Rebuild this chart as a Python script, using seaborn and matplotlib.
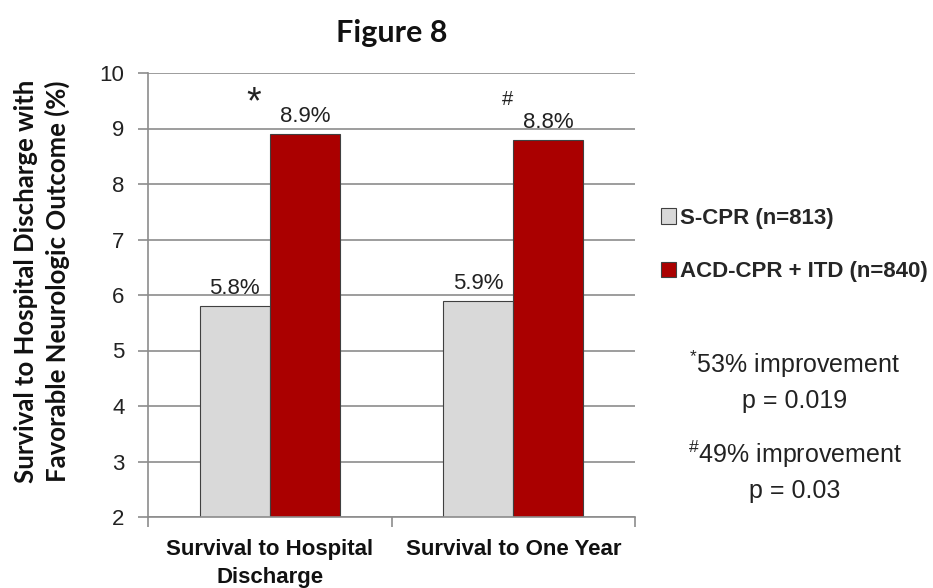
import matplotlib
matplotlib.use("Agg")
import pandas as pd
import seaborn as sns
from matplotlib import pyplot as plt
from matplotlib.patches import Patch

categories = ["Survival to Hospital\nDischarge", "Survival to One Year"]
groups = ["S-CPR (n=813)", "ACD-CPR + ITD (n=840)"]
s_cpr = [5.8, 5.9]
acd_itd = [8.9, 8.8]
yticks = [2, 3, 4, 5, 6, 7, 8, 9, 10]
notes = [
    ["$^{\\mathrm{*}}$53% improvement", "p = 0.019"],
    ["$^{\\#}$49% improvement", "p = 0.03"],
]

df = pd.DataFrame({
    "outcome": categories * 2,
    "group": [groups[0]] * 2 + [groups[1]] * 2,
    "value": s_cpr + acd_itd,
})

colors = ["#d9d9d9", "#aa0000"]
grid_c = "#8c8c8c"

sns.set_theme(style="white")
plt.rcParams["font.family"] = ["Liberation Sans", "DejaVu Sans"]
plt.rcParams["mathtext.fontset"] = "custom"
plt.rcParams["mathtext.rm"] = "Liberation Sans"
plt.rcParams["mathtext.it"] = "Liberation Sans"

fig = plt.figure(figsize=(9.33, 5.88), dpi=100)
ax = fig.add_axes([148 / 933, 1 - 517 / 588, (635 - 148) / 933, (517 - 73) / 588])

sns.barplot(data=df, x="outcome", y="value", hue="group", palette=colors,
            saturation=1, width=0.575, gap=0, errorbar=None,
            edgecolor="#404040", linewidth=0.8, legend=False, ax=ax)

ax.set_ylim(2, 10)
ax.set_yticks(yticks)
ax.set_xlim(-0.5, 1.5)
ax.set_axisbelow(True)
ax.yaxis.grid(True, color=grid_c, linewidth=1.2)
ax.xaxis.grid(False)
for side in ["top", "right"]:
    ax.spines[side].set_visible(False)
for side in ["left", "bottom"]:
    ax.spines[side].set_color(grid_c)
    ax.spines[side].set_linewidth(1.2)

ax.set_xlabel("")
ax.set_ylabel("")
ax.tick_params(axis="y", left=True, length=7, width=1.2, color=grid_c,
               labelsize=16, pad=10, labelcolor="#222222")
ax.tick_params(axis="x", which="major", length=0, pad=16)
ax.set_xticks([-0.5, 0.5, 1.5], minor=True)
ax.tick_params(axis="x", which="minor", bottom=True, length=7, width=1.2,
               color=grid_c)
for lab in ax.get_xticklabels():
    lab.set_fontsize(16)
    lab.set_fontweight("bold")
    lab.set_color("#111111")
    lab.set_linespacing(1.4)

for cont in ax.containers:
    ax.bar_label(cont, fmt="%.1f%%", padding=5, fontsize=16, color="#222222")

# significance marks over the ACD-CPR + ITD bars
red_bars = ax.containers[1].patches
mark_specs = [("*", 27, -37, 22, "center"), ("#", 14.5, -29.5, 25, "baseline")]
for bar, (sym, size, dx, dy, va) in zip(red_bars, mark_specs):
    ax.annotate(sym, (bar.get_x() + bar.get_width() / 2, bar.get_height()),
                xytext=(dx, dy), textcoords="offset points", ha="center",
                va=va, fontsize=size, color="#222222")

ax.set_title("Figure 8", fontsize=22, fontweight="bold", family="Lato",
             pad=22, color="#111111")

fig.text(42 / 933, 1 - 281 / 588,
         "Survival to Hospital Discharge with\nFavorable Neurologic Outcome (%)",
         rotation=90, ha="center", va="center", fontsize=18.5,
         fontweight="bold", family="Lato", linespacing=1.3, color="#111111")

handles = [Patch(facecolor=c, edgecolor="#404040", linewidth=0.8) for c in colors]
fig.legend(handles, groups, loc="center left",
           bbox_to_anchor=(652 / 933, 1 - 245 / 588), frameon=False,
           handlelength=0.7, handleheight=0.7, handletextpad=0.15,
           labelspacing=1.45, borderaxespad=0,
           prop={"family": "Liberation Sans", "weight": "bold", "size": 16})

baselines = [[373, 408], [463, 498]]
for lines, ys in zip(notes, baselines):
    for line, y in zip(lines, ys):
        fig.text(795 / 933, 1 - y / 588, line, ha="center", va="baseline",
                 fontsize=18, color="#222222")

fig.savefig("out.png", dpi=100)
